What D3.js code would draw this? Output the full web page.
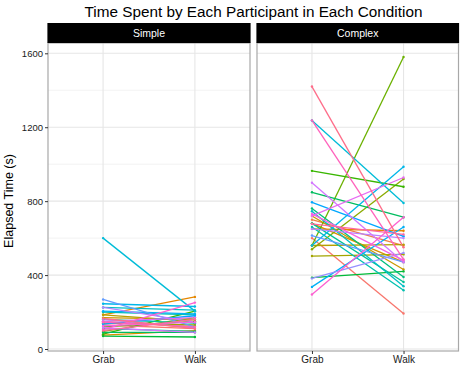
<!DOCTYPE html>
<html lang="en">
<head>
    <meta charset="UTF-8">
    <title>Time Spent by Each Participant in Each Condition</title>
    <script src="https://d3js.org/d3.v7.min.js"></script>
    <style>
        body{ margin: 0; background: #fff; }
        svg{ font-family: "Liberation Sans", Arial, Helvetica, sans-serif; }
    </style>
</head>
<body>
    <script>
        //DATA - ONE ENTRY PER PARTICIPANT, SAME ORDER IN EVERY ARRAY
        const conditions = ["Simple", "Complex"];
        const tasks = ["Grab", "Walk"];
        const simpleGrab = [130, 150, 185, 75, 170, 185, 140, 95, 120, 80, 70, 90, 110, 160, 200,
                            225, 600, 245, 205, 135, 268, 160, 225, 115, 150, 125, 105, 145, 100, 165];
        const simpleWalk = [110, 120, 282, 100, 160, 150, 130, 170, 150, 205, 65, 90, 95, 140, 185,
                            210, 205, 230, 190, 180, 120, 115, 145, 90, 170, 145, 251, 120, 160, 110];
        const complexGrab = [600, 700, 650, 680, 720, 560, 503, 540, 560, 964, 386, 848, 760, 680, 660,
                             745, 1237, 560, 336, 794, 614, 382, 650, 900, 720, 731, 295, 1237, 677, 1420];
        const complexWalk = [192, 560, 640, 470, 430, 565, 512, 920, 1580, 878, 420, 713, 390, 363, 318,
                             340, 790, 986, 660, 610, 470, 520, 600, 470, 928, 480, 713, 485, 620, 550];
        const yTicks = [0, 400, 800, 1200, 1600];
        const yMinor = [200, 600, 1000, 1400];

        //GGPLOT STYLE HUE COLOURS (HCL IN LUV SPACE, L=65 C=100)
        function hueColor(h){
            const L = 65, C = 100;
            const hr = h * Math.PI / 180;
            const u = C * Math.cos(hr), v = C * Math.sin(hr);
            const Xn = 95.047, Yn = 100, Zn = 108.883;
            const den = Xn + 15 * Yn + 3 * Zn;
            const un = 4 * Xn / den, vn = 9 * Yn / den;
            const Y = Yn * Math.pow((L + 16) / 116, 3);
            const up = u / (13 * L) + un, vp = v / (13 * L) + vn;
            const X = Y * 9 * up / (4 * vp);
            const Z = Y * (12 - 3 * up - 20 * vp) / (4 * vp);
            const x = X / 100, y = Y / 100, z = Z / 100;
            const lin = [
                 3.2404542 * x - 1.5371385 * y - 0.4985314 * z,
                -0.9692660 * x + 1.8760108 * y + 0.0415560 * z,
                 0.0556434 * x - 0.2040259 * y + 1.0572252 * z
            ];
            const c = lin.map(t => {
                const g = t <= 0.0031308 ? 12.92 * t : 1.055 * Math.pow(t, 1 / 2.4) - 0.055;
                return Math.round(Math.max(0, Math.min(1, g)) * 255);
            });
            return d3.rgb(c[0], c[1], c[2]).formatHex();
        }
        const n = simpleGrab.length;
        const colors = d3.range(n).map(i => hueColor(15 + i * 360 / n));

        //BUILD ROWS FOR EACH PANEL
        const panels = [
            {name: conditions[0], grab: simpleGrab, walk: simpleWalk},
            {name: conditions[1], grab: complexGrab, walk: complexWalk}
        ];

        //LAYOUT
        const width = 461, height = 367;
        const panelX = [[48, 250], [257, 458.5]];
        const stripTop = 23, panelTop = 43, panelBottom = 351;

        const svg = d3.select("body").append("svg")
            .attr("width", width)
            .attr("height", height);

        //Y SCALE WITH 5% EXPANSION LIKE GGPLOT
        const all = simpleGrab.concat(simpleWalk, complexGrab, complexWalk);
        const lo = d3.min(all), hi = d3.max(all), pad = (hi - lo) * 0.05;
        const y = d3.scaleLinear().domain([lo - pad, hi + pad]).range([panelBottom, panelTop]);

        //TITLE
        svg.append("text")
            .attr("x", 253.5)
            .attr("y", 17)
            .attr("text-anchor", "middle")
            .attr("font-size", "15.3px")
            .attr("fill", "#000")
            .text("Time Spent by Each Participant in Each Condition");

        //Y AXIS TITLE
        svg.append("text")
            .attr("transform", "translate(13," + ((panelTop + panelBottom) / 2 + 4) + ") rotate(-90)")
            .attr("text-anchor", "middle")
            .attr("font-size", "12.5px")
            .attr("fill", "#000")
            .text("Elapsed Time (s)");

        panels.forEach((p, pi) => {
            const [x0, x1] = panelX[pi];
            const x = d3.scalePoint().domain(tasks).range([x0, x1]).padding(0.6);
            const g = svg.append("g");

            //GRIDLINES
            g.selectAll(".minor").data(yMinor).enter().append("line")
                .attr("x1", x0).attr("x2", x1)
                .attr("y1", d => y(d)).attr("y2", d => y(d))
                .attr("stroke", "#EBEBEB").attr("stroke-width", 0.6);
            g.selectAll(".major").data(yTicks).enter().append("line")
                .attr("x1", x0).attr("x2", x1)
                .attr("y1", d => y(d)).attr("y2", d => y(d))
                .attr("stroke", "#E6E6E6").attr("stroke-width", 1.1);
            g.selectAll(".vgrid").data(tasks).enter().append("line")
                .attr("x1", d => x(d)).attr("x2", d => x(d))
                .attr("y1", panelTop).attr("y2", panelBottom)
                .attr("stroke", "#E6E6E6").attr("stroke-width", 1.1);

            //ONE LINE PER PARTICIPANT
            const rows = d3.range(n).map(i => ({id: i, grab: p.grab[i], walk: p.walk[i]}));
            g.selectAll(".pline").data(rows).enter().append("line")
                .attr("x1", x("Grab")).attr("x2", x("Walk"))
                .attr("y1", d => y(d.grab)).attr("y2", d => y(d.walk))
                .attr("stroke", d => colors[d.id])
                .attr("stroke-width", 1.3);
            rows.forEach(d => {
                g.append("circle").attr("cx", x("Grab")).attr("cy", y(d.grab)).attr("r", 1.2).attr("fill", colors[d.id]);
                g.append("circle").attr("cx", x("Walk")).attr("cy", y(d.walk)).attr("r", 1.2).attr("fill", colors[d.id]);
            });

            //PANEL BORDER
            g.append("rect")
                .attr("x", x0).attr("y", panelTop)
                .attr("width", x1 - x0).attr("height", panelBottom - panelTop)
                .attr("fill", "none").attr("stroke", "#A8A8A8").attr("stroke-width", 1.2);

            //STRIP
            g.append("rect")
                .attr("x", x0 - 0.6).attr("y", stripTop)
                .attr("width", x1 - x0 + 1.2).attr("height", panelTop - stripTop)
                .attr("fill", "#000");
            g.append("text")
                .attr("x", (x0 + x1) / 2).attr("y", (stripTop + panelTop) / 2 + 3.8)
                .attr("text-anchor", "middle")
                .attr("font-size", "10.5px")
                .attr("fill", "#fff")
                .text(p.name);

            //X AXIS
            const xAxis = g.append("g")
                .attr("transform", "translate(0," + panelBottom + ")")
                .call(d3.axisBottom(x).tickSize(3).tickPadding(2));
            xAxis.select(".domain").remove();
            xAxis.selectAll("line").attr("stroke", "#333");
            xAxis.selectAll("text").attr("font-size", "10px").attr("fill", "#1a1a1a")
                .attr("font-family", "Liberation Sans, Arial, sans-serif");
        });

        //Y AXIS ON LEFT PANEL
        const yAxis = svg.append("g")
            .attr("transform", "translate(" + panelX[0][0] + ",0)")
            .call(d3.axisLeft(y).tickValues(yTicks).tickFormat(d3.format("d")).tickSize(3).tickPadding(2));
        yAxis.select(".domain").remove();
        yAxis.selectAll("line").attr("stroke", "#333");
        yAxis.selectAll("text").attr("font-size", "9.5px").attr("fill", "#1a1a1a")
            .attr("font-family", "Liberation Sans, Arial, sans-serif");
    </script>
</body>
</html>
